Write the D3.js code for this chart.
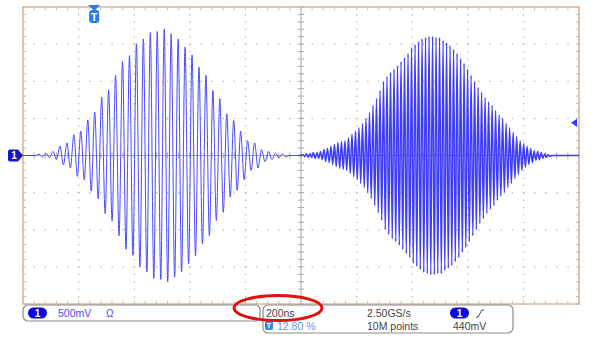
<!DOCTYPE html>
<html>
<head>
<meta charset="utf-8">
<script src="https://cdn.jsdelivr.net/npm/d3@7"></script>
<style>
body { margin: 0; background: #fff; }
svg { display: block; font-family: "Liberation Sans", Arial, sans-serif; }
</style>
</head>
<body>
<div id="plot-container"></div>
<script>
// scope settings
var timePerDiv = 200;   // ns
var voltsPerDiv = 500;  // mV
var hDivs = 10;
var vDivs = 8;

// burst 1 : one positive peak per carrier cycle (mV)
var burst1Start = 58;    // ns, first peak
var burst1Period = 25;   // ns
var burst1Amps = [20, 30, 55, 125, 170, 280, 325, 480, 585, 785, 885, 1080,
                  1265, 1345, 1505, 1570, 1655, 1670, 1700, 1640, 1570, 1460,
                  1355, 1190, 1080, 875, 765, 560, 470, 325, 200, 170, 80, 55, 30, 20];

// burst 2 : faster carrier
var burst2Start = 1007;
var burst2Period = 12.6;
var burst2Amps = [15, 25, 25, 40, 40, 55, 80, 95, 120, 150, 175, 190, 200, 240, 285,
                  325, 375, 430, 500, 580, 675, 770, 875, 1000, 1065, 1120, 1160, 1210,
                  1265, 1320, 1375, 1455, 1495, 1535, 1575, 1590, 1605, 1605, 1590, 1590,
                  1550, 1520, 1480, 1430, 1375, 1305, 1240, 1160, 1080, 1000, 915, 850,
                  780, 725, 675, 605, 550, 500, 430, 375, 310, 255, 200, 160, 120, 95,
                  65, 55, 40, 25, 15];

// trigger
var triggerLevel = 440;     // mV
var triggerPct = 12.80;     // % of record

// readout texts
var ch1Scale = "500mV";
var timebase = "200ns";
var sampleRate = "2.50GS/s";
var recordLength = "10M points";
var trigText = "440mV";
var trigPctText = "12.80 %";

var W = 602, H = 347;
var pLeft = 23, pRight = 579, pTop = 7, pBottom = 304;

var svg = d3.select("#plot-container").append("svg")
            .attr("width", W).attr("height", H);

var x = d3.scaleLinear().domain([0, timePerDiv * hDivs]).range([pLeft, pRight]);
var y = d3.scaleLinear().domain([-voltsPerDiv * vDivs / 2, voltsPerDiv * vDivs / 2]).range([pBottom, pTop]);

var grid = svg.append("g");
var dotColor = "#b4b4b4";

// dotted graticule
var tMinor = d3.range(0, timePerDiv * hDivs + 1, timePerDiv / 5);
var vMinor = d3.range(-voltsPerDiv * 4, voltsPerDiv * 4 + 1, voltsPerDiv / 5);
d3.range(1, hDivs).forEach(function(k) {
  if (k === hDivs / 2) return;
  vMinor.forEach(function(v) {
    grid.append("rect").attr("x", x(k * timePerDiv) - 0.5).attr("y", y(v) - 0.5)
        .attr("width", 1.3).attr("height", 1.3).attr("fill", dotColor);
  });
});
d3.range(-3, 4).forEach(function(k) {
  if (k === 0) return;
  tMinor.forEach(function(t) {
    grid.append("rect").attr("x", x(t) - 0.5).attr("y", y(k * voltsPerDiv) - 0.5)
        .attr("width", 1.3).attr("height", 1.3).attr("fill", dotColor);
  });
});

// center cross with ticks
var cx = x(timePerDiv * hDivs / 2), cy = y(0);
grid.append("line").attr("x1", cx).attr("x2", cx).attr("y1", pTop).attr("y2", pBottom)
    .attr("stroke", "#a8a8a8").attr("stroke-width", 1);
grid.append("line").attr("x1", pLeft).attr("x2", pRight).attr("y1", cy).attr("y2", cy)
    .attr("stroke", "#a8a8a8").attr("stroke-width", 1);
vMinor.forEach(function(v) {
  grid.append("line").attr("x1", cx - 3).attr("x2", cx + 3).attr("y1", y(v)).attr("y2", y(v))
      .attr("stroke", "#a8a8a8");
  grid.append("line").attr("x1", pLeft).attr("x2", pLeft + 3).attr("y1", y(v)).attr("y2", y(v))
      .attr("stroke", "#bbb");
  grid.append("line").attr("x1", pRight - 3).attr("x2", pRight).attr("y1", y(v)).attr("y2", y(v))
      .attr("stroke", "#bbb");
});
tMinor.forEach(function(t) {
  grid.append("line").attr("x1", x(t)).attr("x2", x(t)).attr("y1", cy - 3).attr("y2", cy + 3)
      .attr("stroke", "#a8a8a8");
  grid.append("line").attr("x1", x(t)).attr("x2", x(t)).attr("y1", pTop).attr("y2", pTop + 3)
      .attr("stroke", "#bbb");
  grid.append("line").attr("x1", x(t)).attr("x2", x(t)).attr("y1", pBottom - 3).attr("y2", pBottom)
      .attr("stroke", "#bbb");
});

// frame
svg.append("rect").attr("x", pLeft).attr("y", pTop)
   .attr("width", pRight - pLeft).attr("height", pBottom - pTop)
   .attr("fill", "none").attr("stroke", "#d9b497").attr("stroke-width", 1.5);

// build the trace from the peak lists, one piece per burst
function burstPoints(from, start, period, amps, to) {
  var p = [[from, 0], [start - period / 2, 0]];
  amps.forEach(function(a, i) {
    var t = start + i * period;
    p.push([t, a]);
    p.push([t + period / 2, -a]);
  });
  p.push([start + amps.length * period, 0]);
  p.push([to, 0]);
  return p;
}
var split = 990;
var trace1 = burstPoints(0, burst1Start, burst1Period, burst1Amps, split);
var trace2 = burstPoints(split, burst2Start, burst2Period, burst2Amps, timePerDiv * hDivs);

var line = d3.line()
             .x(function(d) { return x(d[0]); })
             .y(function(d) { return y(d[1]); })
             .curve(d3.curveMonotoneX);

svg.append("path").datum(trace1).attr("d", line)
   .attr("fill", "none").attr("stroke", "#4a4aff").attr("stroke-width", 1);
svg.append("path").datum(trace2).attr("d", line)
   .attr("fill", "none").attr("stroke", "#3e3ef8").attr("stroke-width", 1.5);

// channel 1 ground marker
var gy = y(0);
svg.append("path")
   .attr("d", "M10," + (gy - 6) + " H18 L23," + gy + " L18," + (gy + 6) + " H10 Q8," + (gy + 6) + " 8," + (gy + 4) + " V" + (gy - 4) + " Q8," + (gy - 6) + " 10," + (gy - 6) + " Z")
   .attr("fill", "#1414d2");
svg.append("text").attr("x", 14).attr("y", gy + 3.5).attr("text-anchor", "middle")
   .attr("font-size", 10).attr("font-weight", "bold").attr("fill", "#fff").text("1");

// trigger position marker
var tx = x(timePerDiv * hDivs * triggerPct / 100);
svg.append("path").attr("d", "M" + (tx - 6) + ",5 H" + (tx + 6) + " L" + tx + ",11 Z").attr("fill", "#2a7ae8");
svg.append("rect").attr("x", tx - 5).attr("y", 10).attr("width", 10).attr("height", 13).attr("rx", 3)
   .attr("fill", "#2a7ae8");
svg.append("text").attr("x", tx).attr("y", 21).attr("text-anchor", "middle")
   .attr("font-size", 11).attr("font-weight", "bold").attr("fill", "#fff").text("T");

// trigger level marker
var ty = y(triggerLevel);
svg.append("path").attr("d", "M571," + ty + " L577," + (ty - 4) + " L577," + (ty + 4) + " Z")
   .attr("fill", "#2a40e8");

// readout boxes
var info = svg.append("g");
info.append("rect").attr("x", 23).attr("y", 305).attr("width", 237).attr("height", 16).attr("rx", 5)
    .attr("fill", "#fff").attr("stroke", "#8c8c8c").attr("stroke-width", 1.2);
info.append("rect").attr("x", 263).attr("y", 305).attr("width", 250).attr("height", 28).attr("rx", 5)
    .attr("fill", "#fff").attr("stroke", "#8c8c8c").attr("stroke-width", 1.2);

function pill(px, py) {
  info.append("rect").attr("x", px).attr("y", py).attr("width", 19).attr("height", 11).attr("rx", 5.5)
      .attr("fill", "#0a0ae0");
  info.append("text").attr("x", px + 9.5).attr("y", py + 9.5).attr("text-anchor", "middle")
      .attr("font-size", 10).attr("font-weight", "bold").attr("fill", "#fff").text("1");
}
pill(28, 307.5);
info.append("text").attr("x", 58).attr("y", 317).attr("font-size", 10.5).attr("fill", "#4a4af0").text(ch1Scale);
info.append("text").attr("x", 106).attr("y", 317).attr("font-size", 10).attr("fill", "#4a4af0").text("\u03A9");

info.append("text").attr("x", 266).attr("y", 317).attr("font-size", 10.5).attr("fill", "#444").text(timebase);
info.append("text").attr("x", 367).attr("y", 317).attr("font-size", 10.5).attr("fill", "#444").text(sampleRate);
info.append("text").attr("x", 367).attr("y", 330).attr("font-size", 10.5).attr("fill", "#444").text(recordLength);
pill(450, 307.5);
info.append("path").attr("d", "M476,317 H478 L482,310 H484").attr("fill", "none").attr("stroke", "#444");
info.append("text").attr("x", 453).attr("y", 330).attr("font-size", 10.5).attr("fill", "#444").text(trigText);
info.append("rect").attr("x", 265).attr("y", 321).attr("width", 8).attr("height", 9).attr("rx", 1.5).attr("fill", "#3a8ae8");
info.append("path").attr("d", "M267,323.5 H271 M269,323.5 V328").attr("stroke", "#fff").attr("stroke-width", 1.2);
info.append("text").attr("x", 277).attr("y", 330).attr("font-size", 10.5).attr("fill", "#5b9cec").text(trigPctText);

// red highlight ellipse
svg.append("ellipse").attr("cx", 278).attr("cy", 308).attr("rx", 44).attr("ry", 12.5)
   .attr("fill", "none").attr("stroke", "#e3100e").attr("stroke-width", 3);
</script>
</body>
</html>
